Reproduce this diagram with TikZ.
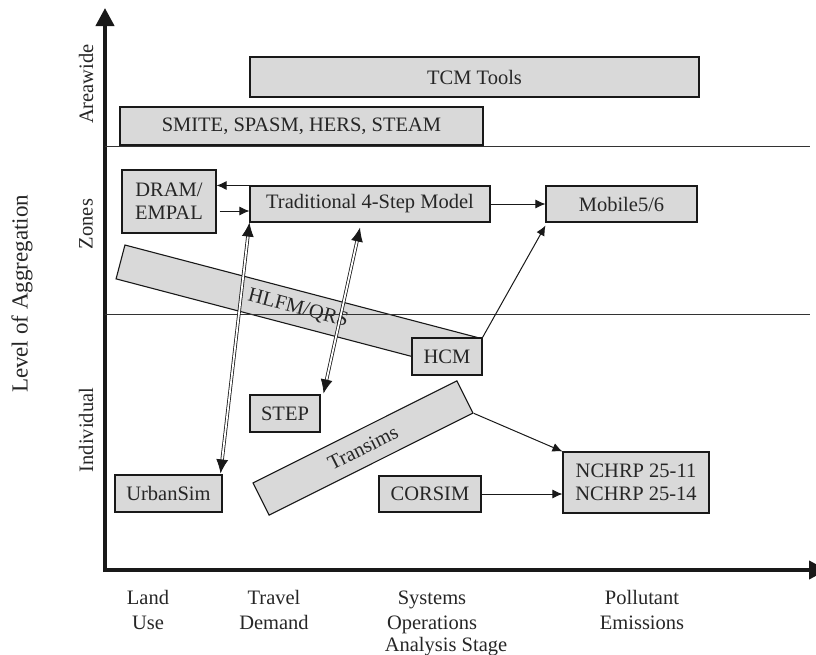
\documentclass[tikz,border=0pt]{standalone}
\usepackage{fontspec}
\setmainfont{Liberation Serif}
\usetikzlibrary{arrows.meta,calc}
\begin{document}
\begin{tikzpicture}[x=1pt,y=-1pt,
  box/.style={draw=black!90, line width=1.1pt, fill=black!15, inner sep=0pt,
    font=\fontsize{20.5}{23}\selectfont, align=center, text=black!85},
  lbl/.style={font=\fontsize{20.5}{24.5}\selectfont, align=center, text=black!85},
  arr/.style={-{Latex[length=10pt,width=9pt]}, line width=1pt, black!90},
  dblline/.style={double=white, double distance=1.8pt, line width=0.8pt, black!90,
    shorten <=10pt, shorten >=10pt},
  dbltip/.style={-{Latex[length=14pt,width=12pt]}, line width=0.8pt, black!90},
  axisline/.style={line width=4pt, black!90, -{Triangle[length=18pt,width=18pt]}},
  sep/.style={line width=1pt, black!80}]

\useasboundingbox (0,0) rectangle (816,654);

% axes
\coordinate (yb) at (105,572);
\coordinate (yt) at (105,8);
\coordinate (xl) at (103,570);
\coordinate (xr) at (827,570);
\draw[axisline] (yb) -- (yt);
\draw[axisline] (xl) -- (xr);

% rotated boxes (under the lines)
\node[box, minimum width=367pt, minimum height=35pt, rotate=-14.7] (hlfm) at (298,308.5) {HLFM/QRS};
\node[box, minimum width=228pt, minimum height=36pt, rotate=26.6] (transims) at (363,448) {Transims};

% separator lines
\coordinate (s1l) at (105,146); \coordinate (s1r) at (810,146);
\coordinate (s2l) at (105,314); \coordinate (s2r) at (810,314);
\draw[sep] (s1l) -- (s1r);
\draw[sep] (s2l) -- (s2r);

% boxes
\node[box, minimum width=449pt, minimum height=40pt] (tcm) at (474.5,77) {TCM Tools};
\node[box, minimum width=363pt, minimum height=38pt] (smite) at (301.5,126) {SMITE, SPASM, HERS, STEAM};
\node[box, minimum width=94pt, minimum height=63pt] (dram) at (169,201.5) {DRAM/\\EMPAL};
\node[box, minimum width=240pt, minimum height=36pt] (trad) at (370,204) {Traditional 4-Step Model};
\node[box, minimum width=151pt, minimum height=36pt] (mob) at (621.5,204) {Mobile5/6};
\node[box, minimum width=70pt, minimum height=37pt] (hcm) at (447,356.5) {HCM};
\node[box, minimum width=70pt, minimum height=37pt] (step) at (285,413.5) {STEP};
\node[box, minimum width=107pt, minimum height=37pt] (urban) at (168.5,493.5) {UrbanSim};
\node[box, minimum width=102pt, minimum height=36pt] (corsim) at (430,494) {CORSIM};
\node[box, minimum width=146pt, minimum height=61pt] (nchrp) at (636,482.5) {NCHRP 25-11\\NCHRP 25-14};

% connectors
\draw[arr] (trad.north west) -- (trad.north west -| dram.east);
\coordinate (d2) at ($(dram.east)+(3,9.5)$);
\draw[arr] (d2) -- (d2 -| trad.west);
\draw[arr] (trad.east) -- (mob.west);
\draw[arr] (hcm.north east) -- ($(mob.south west)+(0,3)$);
\draw[arr] (transims.south east) -- (nchrp.north west);
\draw[arr] (corsim.east) -- (corsim.east -| nchrp.west);

\coordinate (ua) at ($(urban.north east)+(-2,-1)$);
\coordinate (ub) at (trad.south west);
\draw[dblline] (ua) -- (ub);
\draw[dbltip] ($(ub)!14pt!(ua)$) -- (ub);
\draw[dbltip] ($(ua)!14pt!(ub)$) -- (ua);

\coordinate (sa) at ($(step.north east)+(3,-1)$);
\coordinate (sb) at ($(trad.south)+(-10,5)$);
\draw[dblline] (sa) -- (sb);
\draw[dbltip] ($(sb)!14pt!(sa)$) -- (sb);
\draw[dbltip] ($(sa)!14pt!(sb)$) -- (sa);

% axis labels
\node[lbl, rotate=90] (areawide) at (86,84) {Areawide};
\node[lbl, rotate=90] (zones) at (86,224) {Zones};
\node[lbl, rotate=90] (indiv) at (86,430) {Individual};
\node[lbl, rotate=90, font=\fontsize{23}{27}\selectfont] (level) at (22,294) {Level of Aggregation};
\node[lbl] (land) at (148,612) {Land\strut\\Use\strut};
\node[lbl] (travel) at (274,612) {Travel\strut\\Demand\strut};
\node[lbl] (sysop) at (432,612) {Systems\strut\\Operations\strut};
\node[lbl] (poll) at (642,612) {Pollutant\strut\\Emissions\strut};
\node[lbl, anchor=base] (stage) at (446,651) {Analysis Stage};
\end{tikzpicture}
\end{document}
